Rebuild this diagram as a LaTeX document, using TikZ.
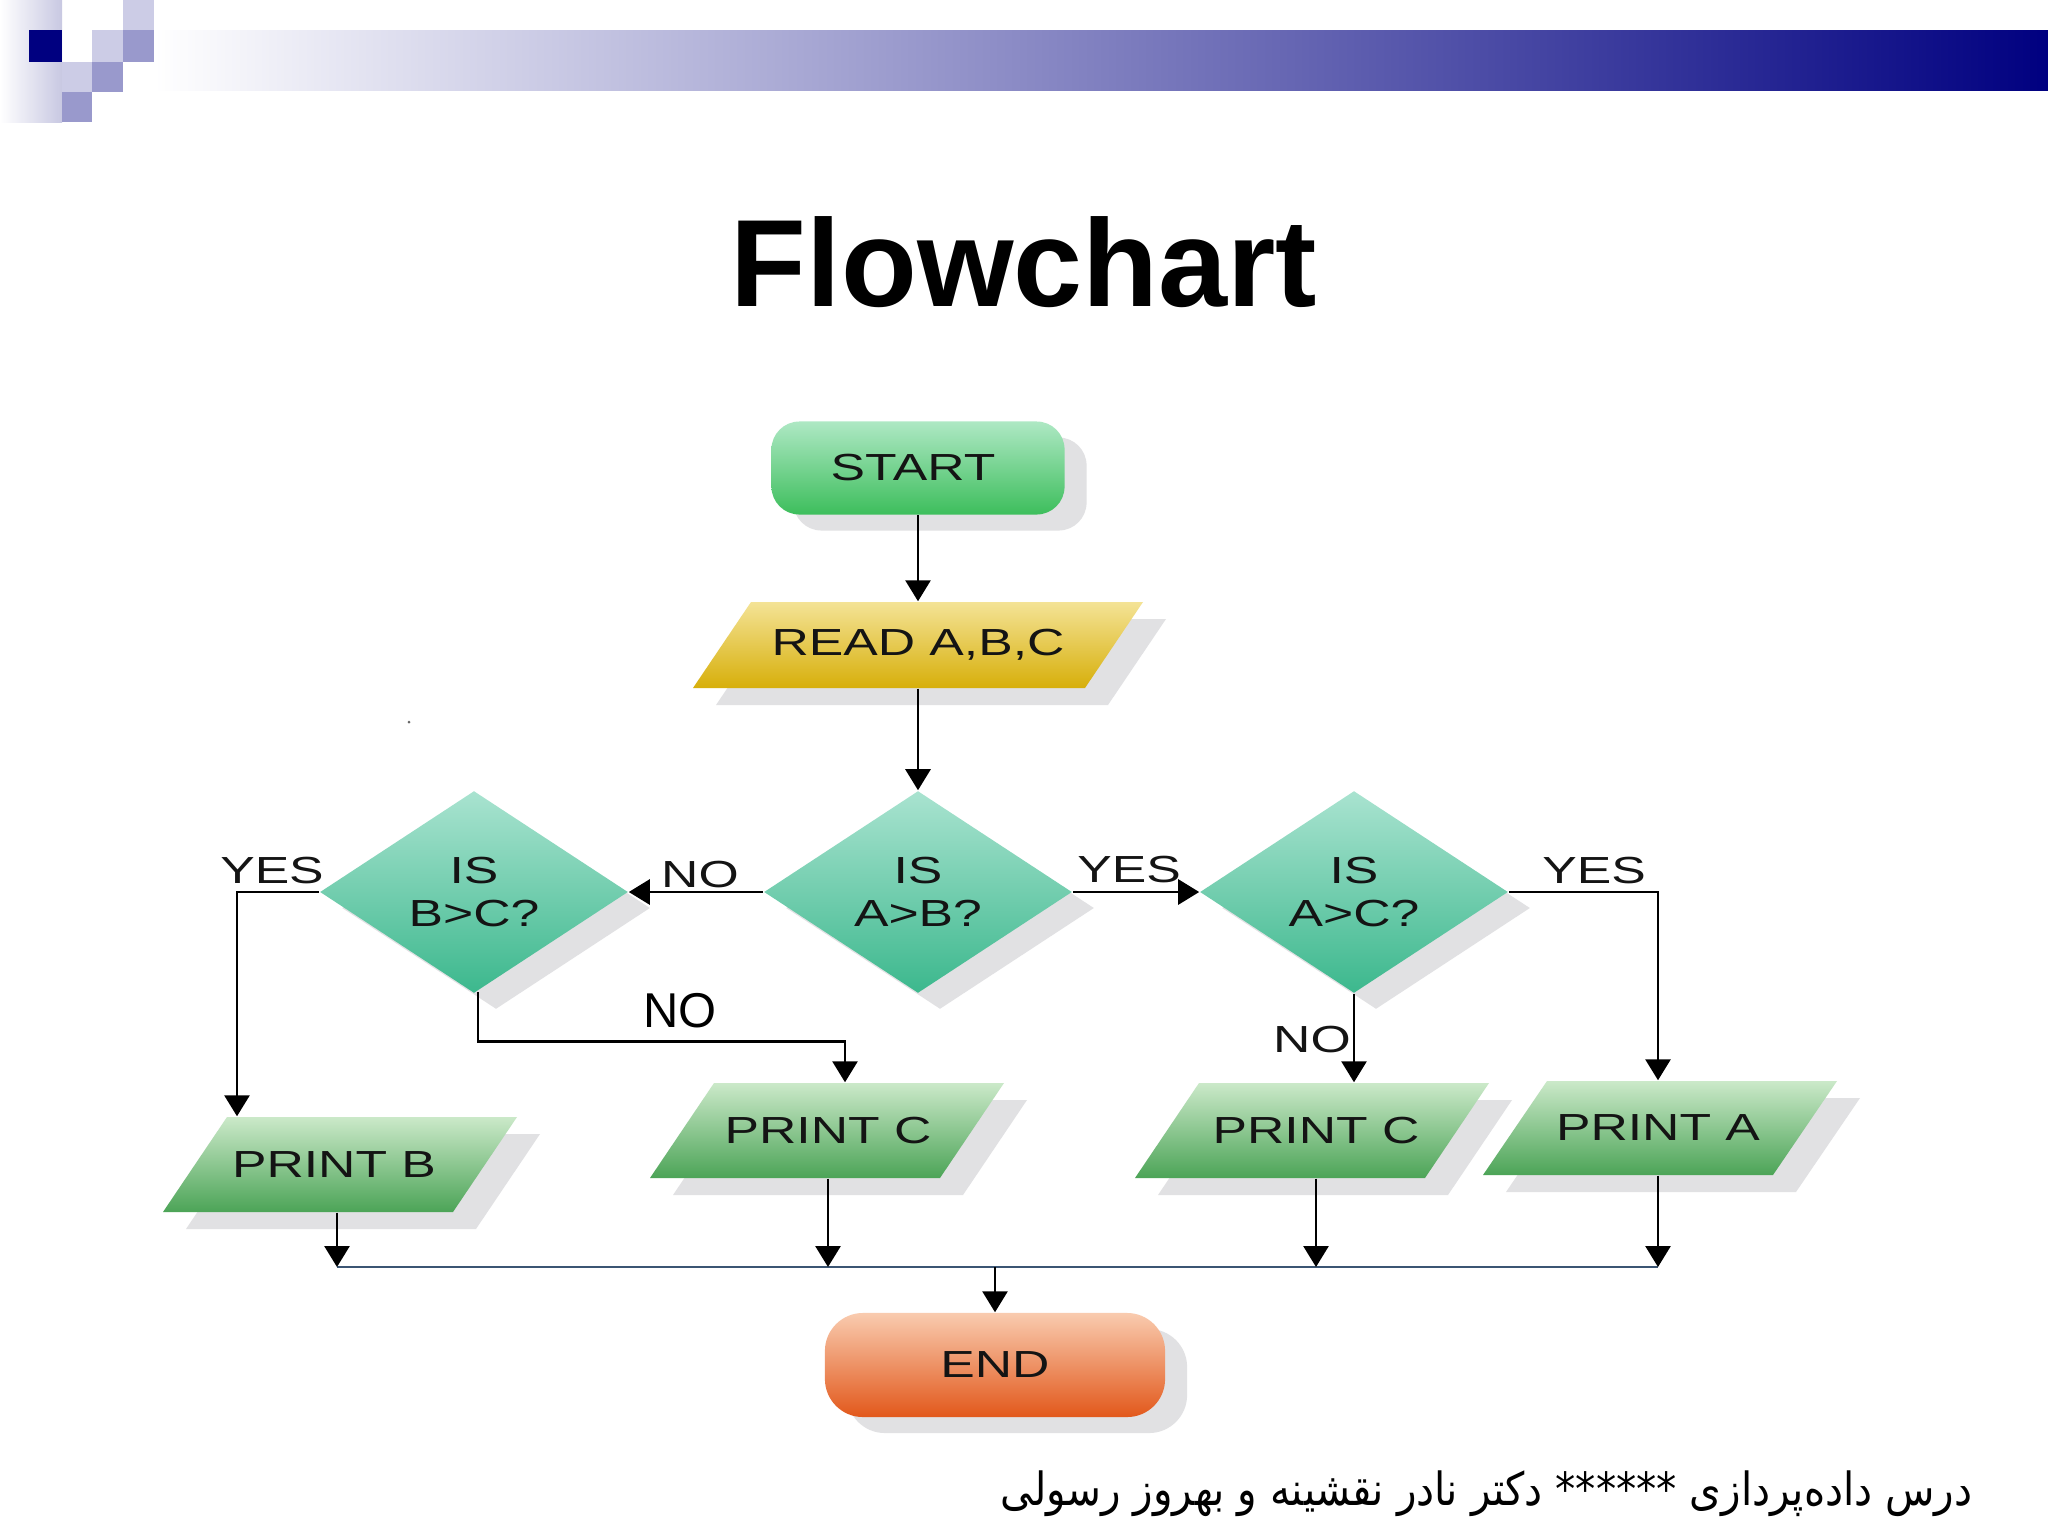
\documentclass[tikz,border=0pt]{standalone}
\usepackage{fontspec}
\setmainfont{Liberation Sans}
\newfontfamily\wf[FakeStretch=1.37]{Liberation Sans}
\newfontfamily\arabicfont[Script=Arabic,FakeStretch=0.885]{DejaVu Sans}
\TeXXeTstate=1
\usetikzlibrary{shapes.geometric,arrows.meta,shadows,calc}
\definecolor{navy}{HTML}{000080}
\definecolor{lavL}{HTML}{CCCCE6}
\definecolor{lavM}{HTML}{9999CC}
\definecolor{lavS}{HTML}{C8C8E2}
\definecolor{startT}{HTML}{AEE8C4}
\definecolor{startB}{HTML}{3DBE5C}
\definecolor{readT}{HTML}{F4E396}
\definecolor{readB}{HTML}{D7AF0A}
\definecolor{diaT}{HTML}{A9E3D0}
\definecolor{diaB}{HTML}{3CB88D}
\definecolor{prT}{HTML}{CBE9C9}
\definecolor{prB}{HTML}{4CA457}
\definecolor{endT}{HTML}{F9CBAF}
\definecolor{endB}{HTML}{E2581B}
\definecolor{shgray}{HTML}{E1E1E3}
\definecolor{txt}{HTML}{141414}
\definecolor{mergecol}{HTML}{3B5573}
\newcommand{\pgram}[7]{%
  \fill[shgray] (#1-#3+#4+23,#2-#5+17) -- (#1+#3+#4+23,#2-#5+17) -- (#1+#3-#4+23,#2+#5+17) -- (#1-#3-#4+23,#2+#5+17) -- cycle;
  \shade[top color=#6,bottom color=#7] (#1-#3+#4,#2-#5) -- (#1+#3+#4,#2-#5) -- (#1+#3-#4,#2+#5) -- (#1-#3-#4,#2+#5) -- cycle;
}
\tikzset{
  lblfont/.style={font=\wf\fontsize{10.73}{12.23}\selectfont, text=txt},
  lbl/.style={lblfont, inner sep=0pt},
  shad/.style={drop shadow={shadow xshift=0.22cm, shadow yshift=-0.16cm, fill=shgray, opacity=1}},
  term/.style={rectangle, draw=none, lblfont, inner sep=0pt, shad},
  dia/.style={diamond, draw=none, lblfont, align=center, inner sep=0pt, aspect=1.5,
    minimum width=3.08cm, minimum height=2.02cm, top color=diaT, bottom color=diaB, shad},
  ptext/.style={rectangle, draw=none, lblfont, inner sep=0pt, minimum width=2.9cm},
  arr/.style={draw=black, line width=0.8pt, -{Triangle[width=0.25cm,length=0.21cm]}},
  mergeline/.style={draw=mergecol, line width=0.6pt}
}
\begin{document}
\begin{tikzpicture}[x=0.01cm,y=-0.01cm]
\useasboundingbox (0,0) rectangle (2048,1536);
\fill[white] (0,0) rectangle (2048,1536);
% header decoration
\shade[left color=white, right color=lavS] (0,0) rectangle (62,122);
\shade[left color=white, right color=navy] (154,30) rectangle (2048,90);
\fill[navy] (29,30) rectangle (62,62);
\fill[lavL] (123,0) rectangle (154,30);
\fill[lavL] (92,30) rectangle (123,62);
\fill[lavL] (62,62) rectangle (92,92);
\fill[lavM] (123,30) rectangle (154,62);
\fill[lavM] (92,62) rectangle (123,92);
\fill[lavM] (62,92) rectangle (92,122);
% title
\node[font=\fontsize{35.3}{40}\selectfont\bfseries, anchor=base, inner sep=0pt] (title) at (1024,306) {Flowchart};
% terminals
\node[term, minimum width=2.93cm, minimum height=0.93cm, rounded corners=0.28cm,
  top color=startT, bottom color=startB] (start) at (918,468) {\hspace*{-0.1cm}START};
\node[term, minimum width=3.40cm, minimum height=1.04cm, rounded corners=0.38cm,
  top color=endT, bottom color=endB] (end) at (995,1365) {END};
% parallelograms
\pgram{918}{645}{196}{29}{43}{readT}{readB}
\node[ptext, minimum width=3.92cm, minimum height=0.86cm] (read) at (918,645) {READ A,B,C};
\pgram{340}{1164.5}{145}{32}{47.5}{prT}{prB}
\node[ptext, minimum height=0.95cm] (pb) at (337,1164.5) {\hspace*{-0.06cm}PRINT B};
\pgram{827}{1130.5}{145}{32}{47.5}{prT}{prB}
\node[ptext, minimum height=0.95cm] (pc1) at (828,1130.5) {PRINT C};
\pgram{1312}{1130.5}{145}{32}{47.5}{prT}{prB}
\node[ptext, minimum height=0.95cm] (pc2) at (1316,1130.5) {PRINT C};
\pgram{1660}{1128}{145}{32}{47}{prT}{prB}
\node[ptext, minimum height=0.94cm] (pa) at (1658,1128) {PRINT A};
% decisions
\node[dia] (bc) at (474,892) {IS\\B>C?};
\node[dia] (ab) at (918,892) {IS\\A>B?};
\node[dia] (ac) at (1354,892) {IS\\A>C?};
% connectors
\draw[arr] (start.south) -- (read.north);
\draw[arr] (read.south) -- (ab.north);
\draw[arr] (ab.west) -- (bc.east);
\draw[arr] (ab.east) -- (ac.west);
\draw[arr] (bc.west) -| ($(pb.north)+(-100,0)$);
\draw[arr] ($(bc.south)+(4,-2)$) |- ($(pc1.north)+(17,-41)$) -- ($(pc1.north)+(17,0)$);
\draw[arr] (ac.south) -- (ac.south |- pc2.north);
\draw[arr] (ac.east) -| (pa.north);
\coordinate (mline) at (0,1267);
\draw[mergeline] (pb.south |- mline) -- (pa.south |- mline);
\draw[arr] (pb.south) -- (pb.south |- mline);
\draw[arr] (pc1.south) -- (pc1.south |- mline);
\draw[arr] (pc2.south) -- (pc2.south |- mline);
\draw[arr] (pa.south) -- (pa.south |- mline);
\draw[arr] (end.north |- mline) -- (end.north);
% labels
\node[lbl, anchor=base] (y1) at (272,883) {YES};
\node[lbl, anchor=base] (n1) at (700,887) {NO};
\node[lbl, anchor=base] (y2) at (1129,882) {YES};
\node[lbl, anchor=base] (y3) at (1594,883) {YES};
\node[lbl, anchor=base] (n3) at (1312,1052) {NO};
\node[font=\fontsize{13.9}{16}\selectfont, text=black, anchor=base, inner sep=0pt] (n2) at (680,1027) {NO};
\fill[black!60] (409,722) circle[radius=0.015cm];
% footer
\node[font=\arabicfont\fontsize{13}{15}\selectfont, anchor=base east, inner sep=0pt] (footer) at (1973,1505)
  {\beginR درس داده‌پردازی ****** دکتر نادر نقشینه و بهروز رسولی\endR};
\end{tikzpicture}
\end{document}
